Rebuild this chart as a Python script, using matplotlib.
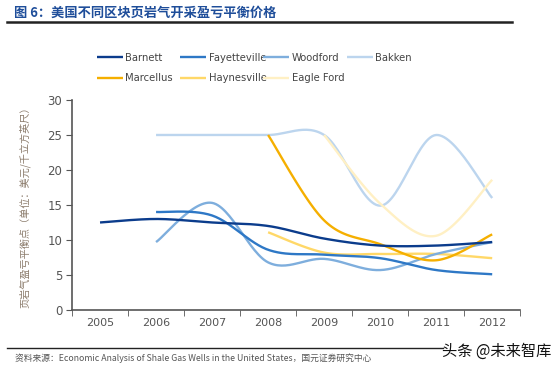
import numpy as np
import matplotlib
matplotlib.use('Agg')
import matplotlib.pyplot as plt
from matplotlib.lines import Line2D

plt.rcParams['font.family'] = ['DejaVu Sans', 'Noto Sans CJK SC']

years = ['2005', '2006', '2007', '2008', '2009', '2010', '2011', '2012']
barnett = [12.5, 13.0, 12.5, 12.0, 10.2, 9.2, 9.2, 9.7]
fayetteville = [None, 14.0, 13.5, 8.6, 7.9, 7.4, 5.7, 5.1]
woodford = [None, 9.7, 15.3, 6.8, 7.3, 5.7, 8.0, 9.7]
bakken = [None, 25.0, 25.0, 25.0, 25.0, 14.9, 25.0, 16.0]
marcellus = [None, None, None, 25.0, 12.8, 9.4, 7.1, 10.8]
haynesville = [None, None, None, 11.1, 8.2, 8.0, 8.0, 7.4]
eagle_ford = [None, None, None, None, 25.0, 15.2, 10.6, 18.6]

names = ['Barnett', 'Fayetteville', 'Woodford', 'Bakken',
         'Marcellus', 'Haynesville', 'Eagle Ford']
colors = ['#0B3C8C', '#2E78C6', '#7EAEDD', '#BCD5EE',
          '#F5AF00', '#FFD868', '#FFF0C4']


def smooth(xs, ys, n=30):
    # excel-like smoothed line (catmull-rom as bezier)
    xs = np.asarray(xs, float)
    ys = np.asarray(ys, float)
    px, py = [], []
    m = len(xs)
    for i in range(m - 1):
        i0 = max(i - 1, 0)
        i3 = min(i + 2, m - 1)
        c1x = xs[i] + (xs[i + 1] - xs[i0]) / 6
        c1y = ys[i] + (ys[i + 1] - ys[i0]) / 6
        c2x = xs[i + 1] - (xs[i3] - xs[i]) / 6
        c2y = ys[i + 1] - (ys[i3] - ys[i]) / 6
        t = np.linspace(0, 1, n)
        bx = (1-t)**3*xs[i] + 3*(1-t)**2*t*c1x + 3*(1-t)*t**2*c2x + t**3*xs[i+1]
        by = (1-t)**3*ys[i] + 3*(1-t)**2*t*c1y + 3*(1-t)*t**2*c2y + t**3*ys[i+1]
        px.extend(bx)
        py.extend(by)
    return px, py


fig = plt.figure(figsize=(5.54, 3.69), dpi=100)
ax = fig.add_axes([0.130, 0.160, 0.809, 0.569])

series = [barnett, fayetteville, woodford, bakken, marcellus, haynesville, eagle_ford]
# draw light ones first so darker ones sit on top
order = [3, 6, 5, 2, 4, 1, 0]
handles = {}
for k in order:
    vals = series[k]
    xs = [i for i, v in enumerate(vals) if v is not None]
    ys = [v for v in vals if v is not None]
    sx, sy = smooth(xs, ys)
    ln, = ax.plot(sx, sy, color=colors[k], lw=1.7, solid_capstyle='butt')
    handles[k] = ln

ax.set_xlim(-0.5, 7.5)
ax.set_ylim(0, 30)
ax.set_yticks([0, 5, 10, 15, 20, 25, 30])
ax.set_xticks(range(len(years)))
ax.set_xticklabels(years)
ax.set_xticks(np.arange(-0.5, 8, 1), minor=True)
ax.tick_params(axis='x', which='major', length=0, pad=6, labelsize=8, colors='#555555')
ax.tick_params(axis='x', which='minor', length=4, direction='out', color='#555555')
ax.tick_params(axis='y', length=4, labelsize=8.5, colors='#555555', pad=3)
for s in ['top', 'right']:
    ax.spines[s].set_visible(False)
for s in ['left', 'bottom']:
    ax.spines[s].set_color('#555555')
    ax.spines[s].set_linewidth(1.2)

ax.set_ylabel('页岩气盈亏平衡点（单位：美元/千立方英尺）', family=['Noto Sans CJK SC'],
              fontsize=7.3, color='#8a7a6a', labelpad=12)

# one legend per column so the columns are evenly spaced like the original
col_x = [0.175, 0.325, 0.475, 0.626]
cols = [[0, 4], [1, 5], [2, 6], [3]]
for cx, idx in zip(col_x, cols):
    leg = fig.legend([handles[k] for k in idx], [names[k] for k in idx],
                     loc='upper left', bbox_to_anchor=(cx, 0.857), frameon=False,
                     fontsize=7.2, handlelength=2.6, handletextpad=0.25,
                     labelspacing=1.05, labelcolor='#444444',
                     borderaxespad=0, borderpad=0)

fig.text(0.025, 0.965, '图 6：美国不同区块页岩气开采盈亏平衡价格', family=['Noto Sans CJK SC'],
         fontsize=9.5, fontweight='bold', color='#1F4E9A', va='center')
fig.add_artist(Line2D([0.013, 0.925], [0.940, 0.940], color='#222222', lw=1.8))
fig.add_artist(Line2D([0.013, 0.80], [0.057, 0.057], color='#222222', lw=1.0))
fig.text(0.027, 0.030, '资料来源：Economic Analysis of Shale Gas Wells in the United States，国元证券研究中心',
         family=['Noto Sans CJK SC', 'DejaVu Sans'], fontsize=6.3, color='#555555', va='center')
fig.text(0.798, 0.048, '头条 @未来智库', family=['Noto Sans CJK SC'],
         fontsize=11, color='#111111', va='center')

fig.savefig('out.png', dpi=100)
